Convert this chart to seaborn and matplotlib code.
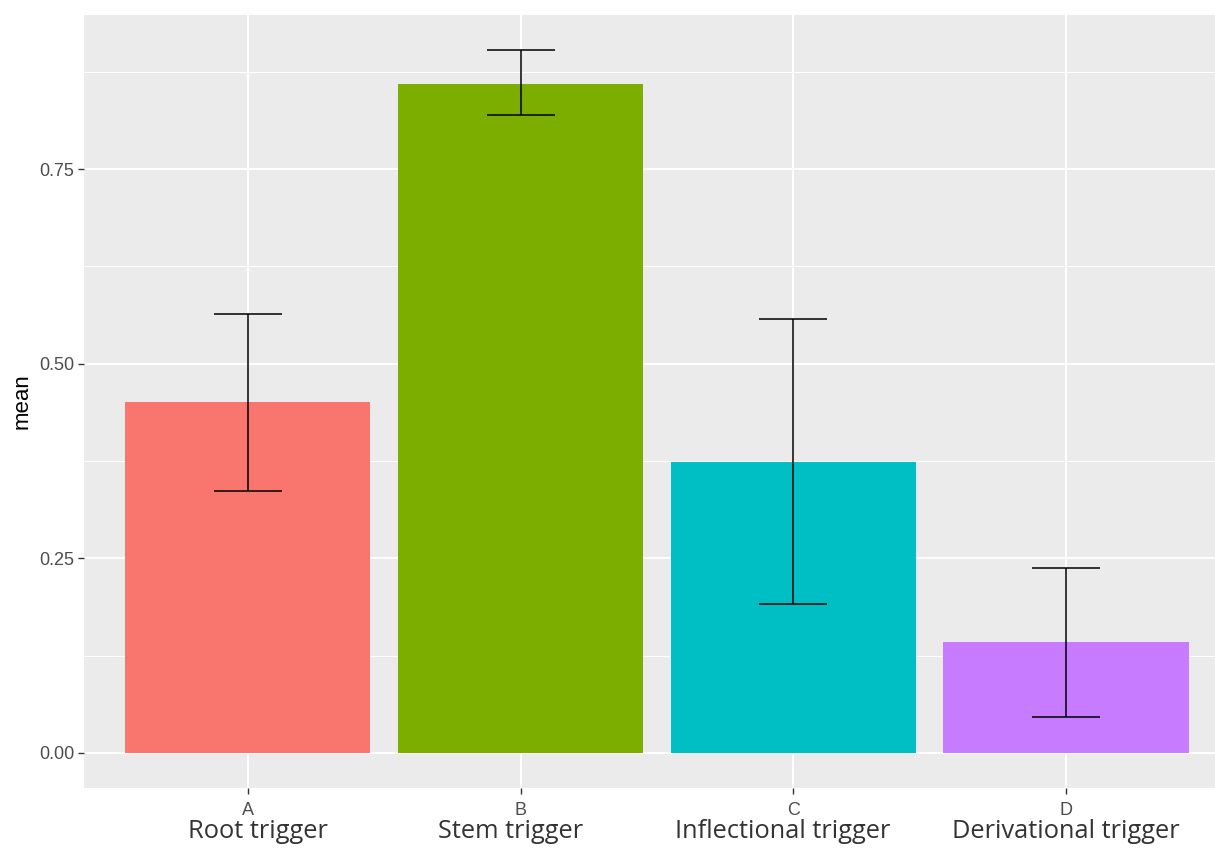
import numpy as np
import pandas as pd
import matplotlib
matplotlib.use("Agg")
import matplotlib.pyplot as plt
import matplotlib.transforms as mtransforms
from matplotlib.ticker import MultipleLocator
import seaborn as sns

# ---- data ----
groups = ["A", "B", "C", "D"]
trigger_names = ["Root trigger", "Stem trigger", "Inflectional trigger", "Derivational trigger"]
means = [0.451, 0.860, 0.374, 0.142]
lower = [0.336, 0.819, 0.192, 0.046]
upper = [0.564, 0.903, 0.558, 0.238]
colors = ["#F8766D", "#7CAE00", "#00BFC4", "#C77CFF"]

df = pd.DataFrame({"group": groups, "mean": means, "lower": lower, "upper": upper})

sns.set_theme(style="darkgrid")
plt.rcParams['font.family'] = ['Liberation Sans', 'DejaVu Sans']

fig = plt.figure(figsize=(12.15, 8.48), dpi=100)
# panel runs off the right edge, like the cropped reference
ax = fig.add_axes([84 / 1215, 1 - 788 / 848, 1146 / 1215, 773 / 848])
ax.set_facecolor("#EBEBEB")

sns.barplot(data=df, x="group", y="mean", hue="group", palette=colors,
            width=0.9, errorbar=None, legend=False, ax=ax, saturation=1,
            linewidth=0, zorder=2)

# error bars
yerr = np.array([df["mean"] - df["lower"], df["upper"] - df["mean"]])
ax.errorbar(np.arange(len(groups)), df["mean"], yerr=yerr, fmt="none",
            ecolor="black", elinewidth=1.1, capsize=24.5, capthick=1.1, zorder=3)

# axes / grid, ggplot-like
ax.set_xlim(-0.6, 3.6)
ax.set_ylim(-0.045, 0.948)
ax.yaxis.set_major_locator(MultipleLocator(0.25))
ax.yaxis.set_minor_locator(MultipleLocator(0.125))
ax.grid(which="major", color="white", linewidth=1.4, zorder=0)
ax.grid(which="minor", axis="y", color="white", linewidth=0.7, zorder=0)
ax.set_axisbelow(True)
for s in ax.spines.values():
    s.set_visible(False)

ax.set_yticks([0, 0.25, 0.5, 0.75])
ax.set_yticklabels(["0.00", "0.25", "0.50", "0.75"])
ax.tick_params(axis="both", which="major", length=4, width=1.0, color="#333333",
               labelsize=13, labelcolor="#4D4D4D", pad=3, bottom=True, left=True)
ax.tick_params(axis="x", which="major", pad=6)
ax.tick_params(axis="both", which="minor", length=0)

ax.set_xlabel("")
ax.set_ylabel("mean", fontsize=16, color="black", labelpad=5)

# larger trigger names under the letters (slightly off-centre in the original)
name_shift = [0.037, -0.037, -0.04, 0.0]
trans = mtransforms.blended_transform_factory(ax.transData, fig.transFigure)
for i, name in enumerate(trigger_names):
    ax.text(i + name_shift[i], 1 - 832 / 848, name, transform=trans, ha="center", va="center",
            fontsize=18.3, color="#333333", family=["Open Sans", "DejaVu Sans"])

fig.savefig("out.png", dpi=100)
